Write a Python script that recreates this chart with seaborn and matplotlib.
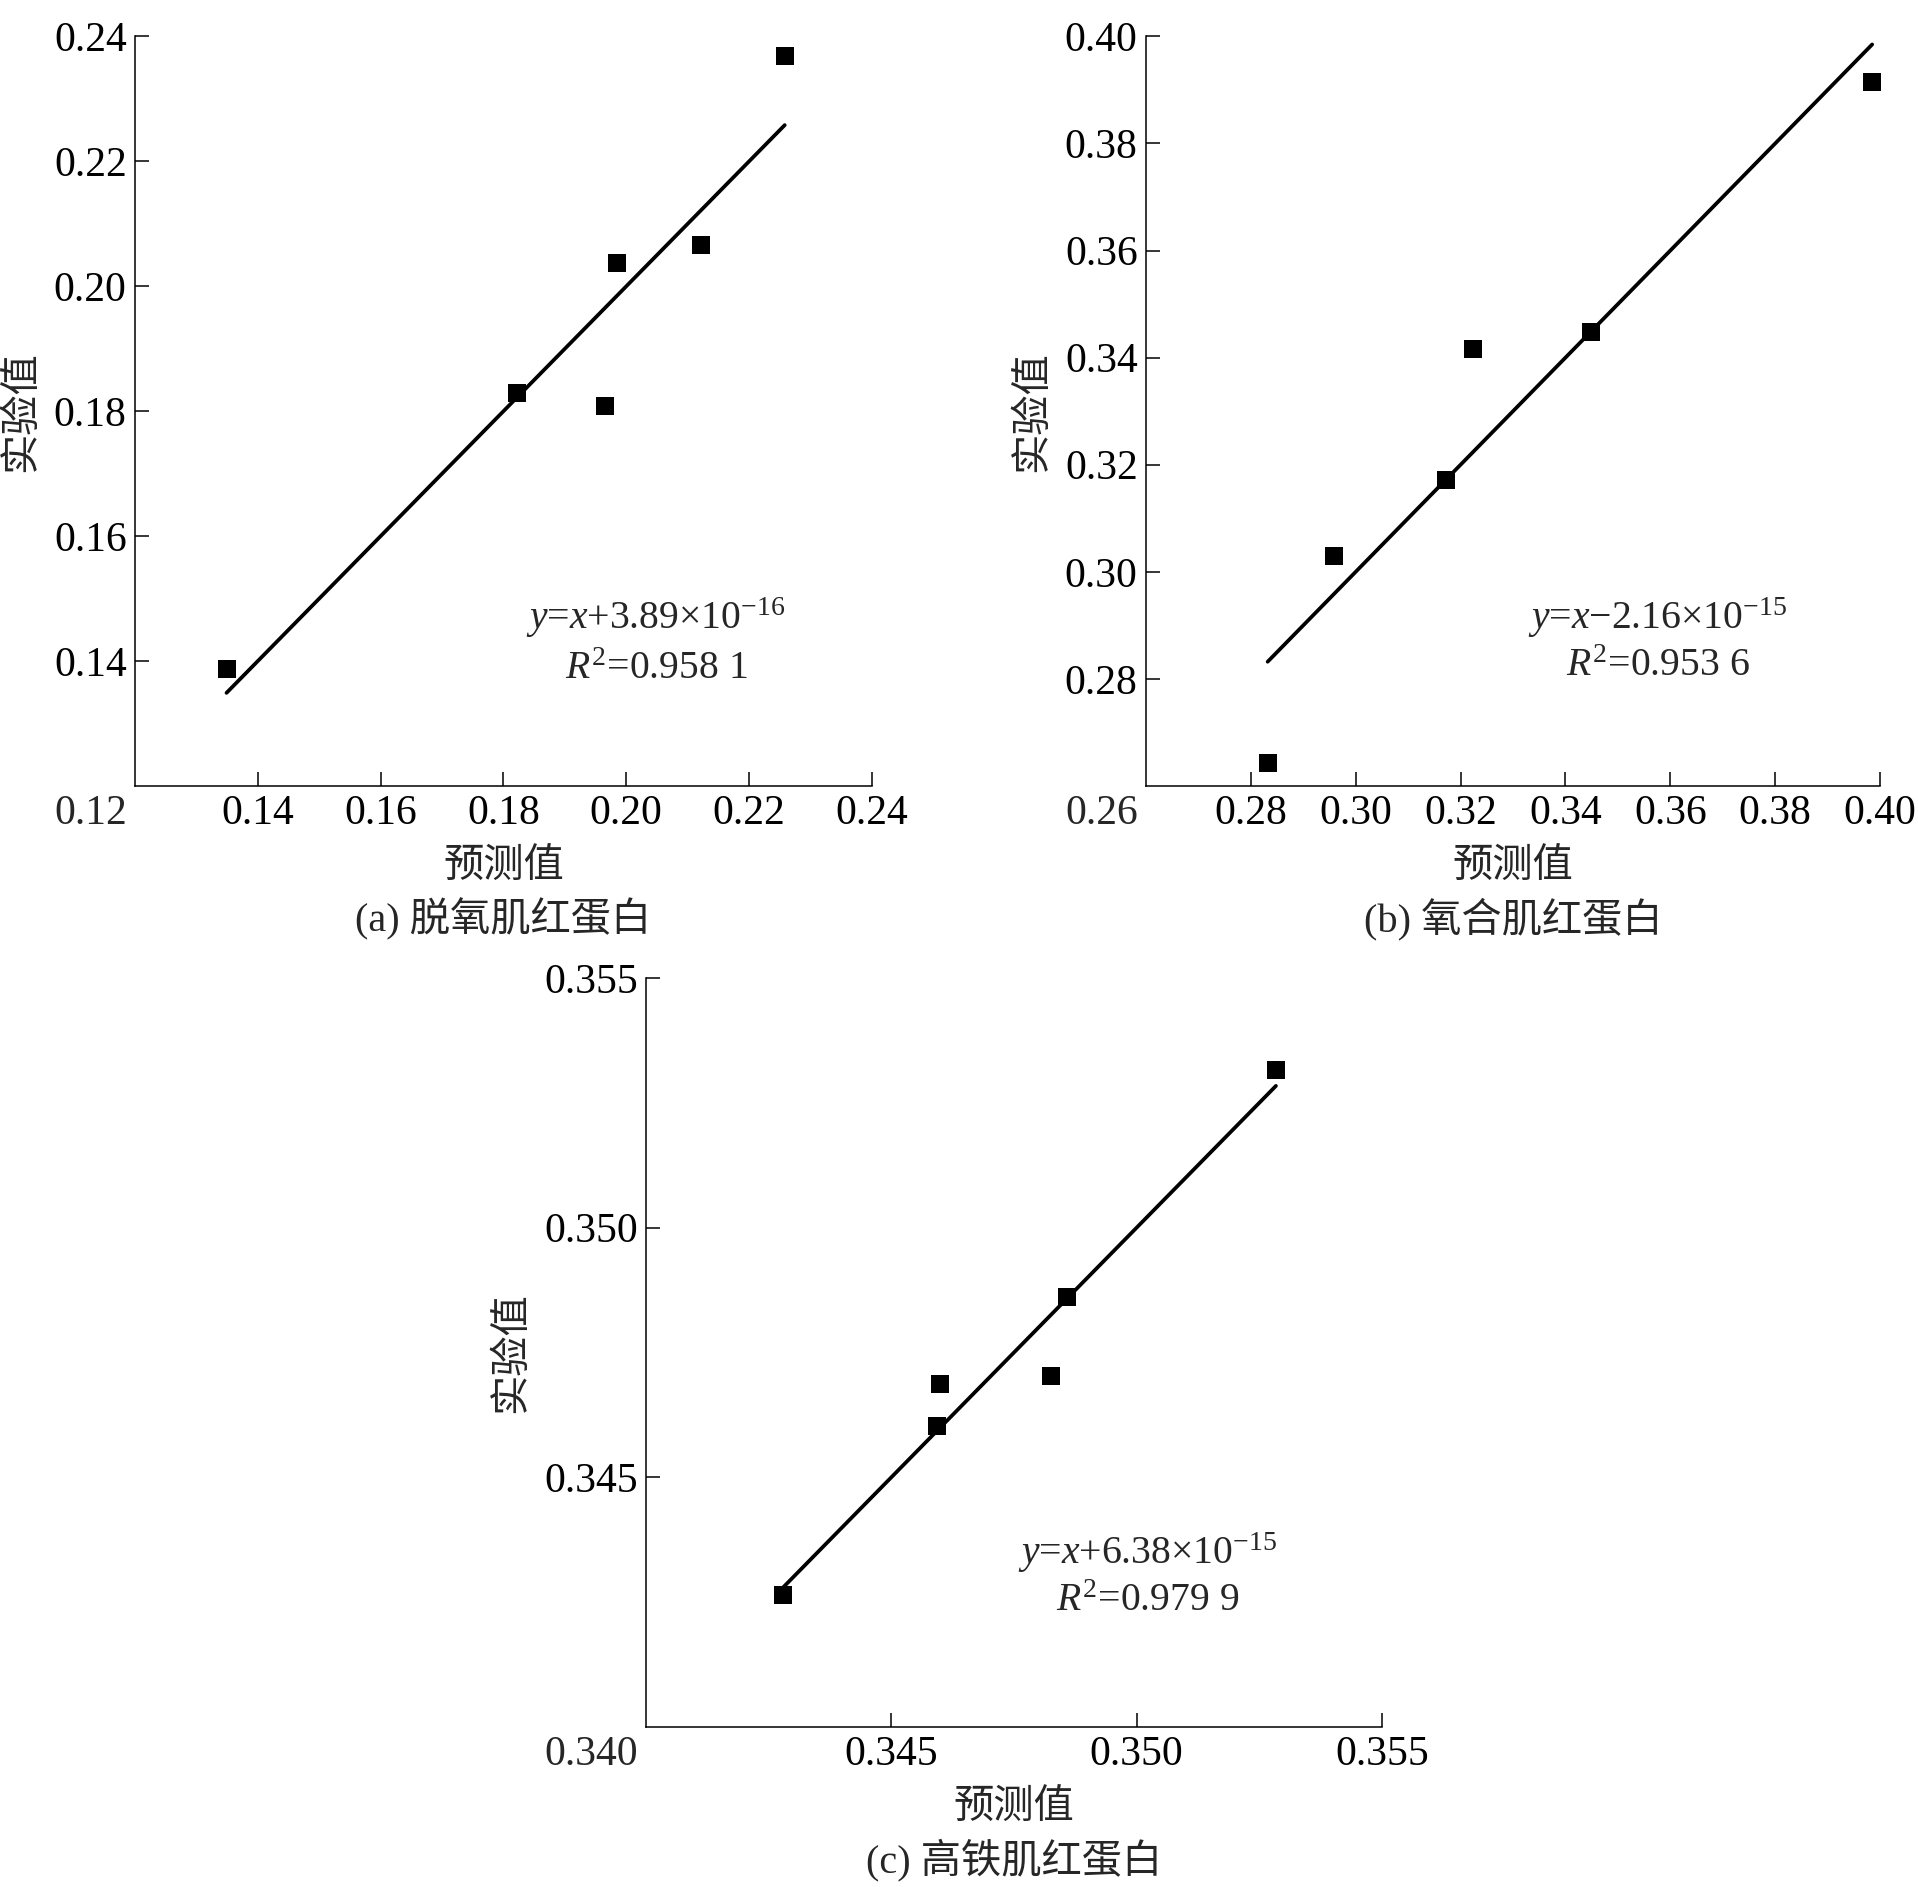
import matplotlib
matplotlib.use("Agg")
import matplotlib.pyplot as plt
import seaborn as sns
import pandas as pd

# ---- data ----
a_pred = [0.1349, 0.1822, 0.1965, 0.1985, 0.2121, 0.2258]
a_exp = [0.1387, 0.1829, 0.1808, 0.2038, 0.2066, 0.2369]
b_pred = [0.2832, 0.2958, 0.3172, 0.3223, 0.3448, 0.3985]
b_exp = [0.2642, 0.3029, 0.3171, 0.3416, 0.3448, 0.3915]
c_pred = [0.34279, 0.34593, 0.34599, 0.34826, 0.34859, 0.35284]
c_exp = [0.34265, 0.34603, 0.34687, 0.34703, 0.34862, 0.35315]

a_ticks = [0.12, 0.14, 0.16, 0.18, 0.20, 0.22, 0.24]
b_ticks = [0.26, 0.28, 0.30, 0.32, 0.34, 0.36, 0.38, 0.40]
c_ticks = [0.340, 0.345, 0.350, 0.355]
a_fmt = "{:.2f}"
c_fmt = "{:.3f}"

eq_a = r"$y$=$x$+3.89×10$^{-16}$"
eq_b = r"$y$=$x$−2.16×10$^{-15}$"
eq_c = r"$y$=$x$+6.38×10$^{-15}$"
r2_a = r"$R^{2}$=0.958 1"
r2_b = r"$R^{2}$=0.953 6"
r2_c = r"$R^{2}$=0.979 9"
cap_a = "(a) 脱氧肌红蛋白"
cap_b = "(b) 氧合肌红蛋白"
cap_c = "(c) 高铁肌红蛋白"
xlab = "预测值"
ylab = "实验值"

sns.set_style("ticks")
FAM = ["Liberation Serif", "Noto Sans CJK SC"]
plt.rcParams["font.family"] = FAM
plt.rcParams["mathtext.fontset"] = "custom"
plt.rcParams["mathtext.rm"] = "Liberation Serif"
plt.rcParams["mathtext.it"] = "Liberation Serif:italic"
plt.rcParams["axes.unicode_minus"] = True

TFS = 30   # tick labels
LFS = 29   # axis labels / captions
AFS = 28.5 # annotations

fig = plt.figure(figsize=(19.18, 18.87), dpi=100)
ax_a = fig.add_axes([0.0704, 0.5835, 0.3842, 0.3972])
ax_b = fig.add_axes([0.5975, 0.5835, 0.3827, 0.3972])
ax_c = fig.add_axes([0.3368, 0.0848, 0.3837, 0.3969])


def panel(ax, pred, exp, ticks, fmt, eq, r2, cap, eqx, eqy1, eqy2):
    df = pd.DataFrame({"pred": pred, "exp": exp})
    lo, hi = min(pred), max(pred)
    line = pd.DataFrame({"x": [lo, hi], "y": [lo, hi]})
    sns.lineplot(data=line, x="x", y="y", ax=ax, color="black", lw=2.7)
    sns.scatterplot(data=df, x="pred", y="exp", ax=ax, marker="s", s=155,
                    color="black", linewidth=0, zorder=3)
    ax.set_xlim(ticks[0], ticks[-1])
    ax.set_ylim(ticks[0], ticks[-1])
    ax.set_xticks(ticks[1:])
    ax.set_yticks(ticks[1:])
    ax.set_xticklabels([fmt.format(t) for t in ticks[1:]])
    ax.set_yticklabels([fmt.format(t) for t in ticks[1:]])
    ax.tick_params(axis="both", direction="in", length=10, width=1.1,
                   labelsize=TFS, color="black", labelcolor="black")
    ax.tick_params(axis="x", pad=6)
    ax.tick_params(axis="y", pad=6)
    # corner label
    ax.annotate(fmt.format(ticks[0]), xy=(0, 0), xycoords="axes fraction",
                xytext=(-6, -6), textcoords="offset points",
                ha="right", va="top", fontsize=TFS)
    for s in ["top", "right"]:
        ax.spines[s].set_visible(False)
    for s in ["left", "bottom"]:
        ax.spines[s].set_linewidth(1.1)
        ax.spines[s].set_color("black")
    ax.set_xlabel(xlab, fontsize=LFS, labelpad=12.5)
    ax.set_ylabel(ylab, fontsize=LFS, labelpad=9)
    ax.text(eqx, eqy1, eq, transform=ax.transAxes, ha="center", va="center",
            fontsize=AFS)
    ax.text(eqx, eqy2, r2, transform=ax.transAxes, ha="center", va="center",
            fontsize=AFS)
    ax.text(0.5, -0.1775, cap, transform=ax.transAxes, ha="center",
            va="center", fontsize=LFS)


panel(ax_a, a_pred, a_exp, a_ticks, a_fmt, eq_a, r2_a, cap_a, 0.707, 0.2246, 0.156)
panel(ax_b, b_pred, b_exp, b_ticks, a_fmt, eq_b, r2_b, cap_b, 0.697, 0.224, 0.159)
panel(ax_c, c_pred, c_exp, c_ticks, c_fmt, eq_c, r2_c, cap_c, 0.681, 0.232, 0.168)

fig.savefig("out.png", dpi=100, facecolor="white")
